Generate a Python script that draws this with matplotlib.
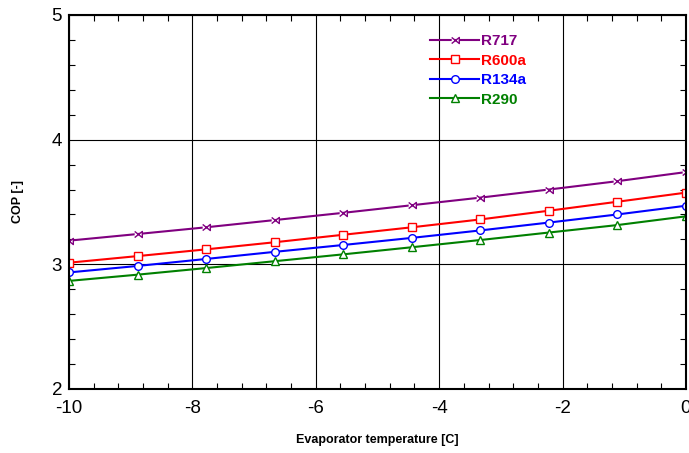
import matplotlib
matplotlib.use("Agg")
import matplotlib.pyplot as plt
from matplotlib.ticker import MultipleLocator

plt.rcParams["font.family"] = ["Liberation Sans", "DejaVu Sans"]
plt.rcParams["axes.unicode_minus"] = False

# evaporator temperature [C]
t_evap = [-10.0, -8.889, -7.778, -6.667, -5.556, -4.444, -3.333, -2.222, -1.111, 0.0]

cop_r717 = [3.190, 3.243, 3.297, 3.355, 3.413, 3.474, 3.535, 3.600, 3.667, 3.740]
cop_r600a = [3.013, 3.066, 3.120, 3.177, 3.237, 3.297, 3.360, 3.430, 3.502, 3.575]
cop_r134a = [2.935, 2.987, 3.043, 3.100, 3.155, 3.212, 3.272, 3.335, 3.400, 3.470]
cop_r290 = [2.867, 2.917, 2.970, 3.025, 3.080, 3.137, 3.195, 3.255, 3.315, 3.385]

labels = ["R717", "R600a", "R134a", "R290"]

# hourglass-like marker used for R717
bowtie = [(-1, -0.8), (1, 0.8), (1, -0.8), (-1, 0.8)]
series = [
    (cop_r717, "#800080", bowtie),
    (cop_r600a, "#ff0000", "s"),
    (cop_r134a, "#0000ff", "o"),
    (cop_r290, "#008000", "^"),
]

fig = plt.figure(figsize=(6.89, 4.53), dpi=100)
ax = fig.add_axes([0.1001, 0.1413, 0.8955, 0.8256])

for (vals, col, mk), lab in zip(series, labels):
    ax.plot(t_evap, vals, color=col, lw=1.5, marker=mk, ms=5.5,
            markerfacecolor="white", markeredgecolor=col, markeredgewidth=1.0,
            label=lab)

ax.set_xlim(-10, 0)
ax.set_ylim(2, 5)
ax.xaxis.set_major_locator(MultipleLocator(2))
ax.xaxis.set_minor_locator(MultipleLocator(0.4))
ax.yaxis.set_major_locator(MultipleLocator(1))
ax.yaxis.set_minor_locator(MultipleLocator(0.2))
ax.tick_params(which="both", direction="in", top=True, right=True, labelsize=13.5)
ax.tick_params(which="major", length=0)
ax.tick_params(axis="x", which="major", pad=8)
ax.tick_params(axis="y", which="major", pad=5)
ax.tick_params(which="minor", length=4, width=0.8)
ax.grid(True, which="major", color="black", lw=0.8)
for s in ax.spines.values():
    s.set_linewidth(1.5)

ax.set_xlabel("Evaporator temperature [C]", fontsize=9, fontweight="bold", labelpad=12)
ax.set_ylabel("COP [-]", fontsize=9, fontweight="bold", labelpad=20)

ax.legend(loc="upper left", bbox_to_anchor=(424 / 689, 1 - 28 / 453),
          bbox_transform=fig.transFigure, frameon=False,
          prop={"weight": "bold", "size": 11}, labelcolor="linecolor",
          handlelength=3.2, handletextpad=0.15, labelspacing=0.36,
          borderaxespad=0)

fig.savefig("out.png", dpi=100)
